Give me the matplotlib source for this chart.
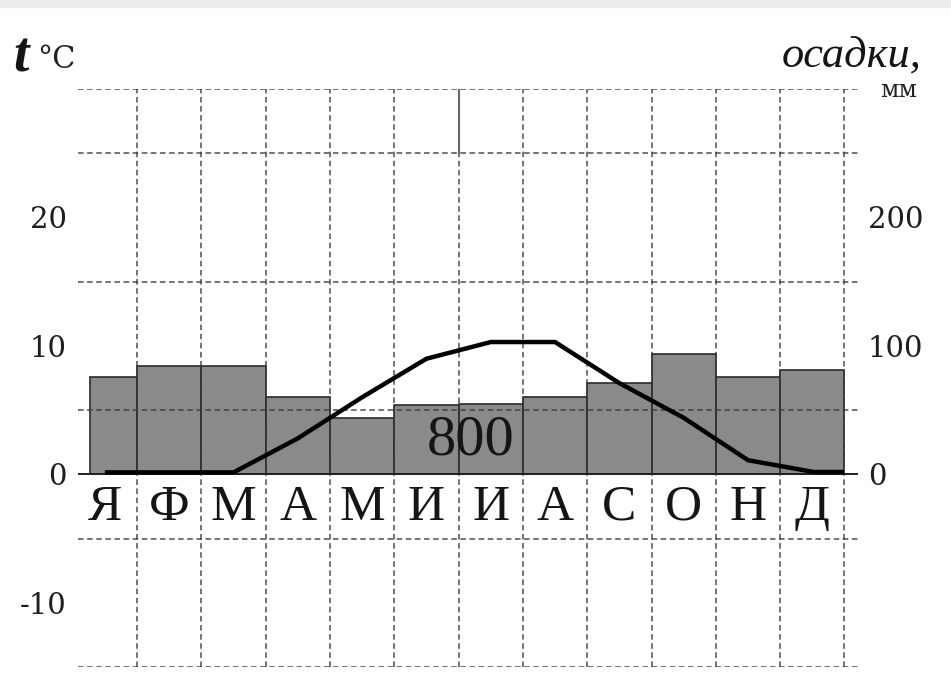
import matplotlib
matplotlib.use("Agg")
import matplotlib.pyplot as plt
from matplotlib.patches import Rectangle
import numpy as np

plt.rcParams["axes.unicode_minus"] = False

# ---- data ----
months = ["Я", "Ф", "М", "А", "М", "И", "И", "А", "С", "О", "Н", "Д"]
temperature = [0.15, 0.15, 0.15, 2.8, 6.0, 9.0, 10.3, 10.3, 7.1, 4.4, 1.1, 0.2]
precipitation = [76, 84, 84, 60, 44, 54, 55, 60, 71, 94, 76, 81]
annual_total = "800"
temp_ticks = [-10, 0, 10, 20]
precip_ticks = [0, 100, 200]

W, H = 951, 686
fig = plt.figure(figsize=(W / 100, H / 100), dpi=100)
fig.patches.append(Rectangle((0, 1 - 7 / H), 1, 7 / H, transform=fig.transFigure,
                             color="#ededed", zorder=0))

ax = fig.add_axes([78 / W, (H - 667) / H, (858 - 78) / W, (667 - 89) / H])
ax2 = ax.twinx()

x = np.arange(len(months))

# precipitation bars (right axis)
bars = ax2.bar(x, precipitation, width=1.0, color="#8a8a8a", edgecolor="#2b2b2b",
               linewidth=1.2, zorder=2)
bars.patches[0].set_x(-0.23)
bars.patches[0].set_width(0.73)

ax.set_zorder(ax2.get_zorder() + 1)
ax.patch.set_visible(False)

# temperature line (left axis)
ax.plot(x, temperature, color="black", lw=3.2, solid_joinstyle="round",
        solid_capstyle="butt", zorder=5)
ax.hlines(temperature[-1], x[-1], x[-1] + 0.5, color="black", lw=3.2, zorder=5)

ax.set_xlim(-0.418, 11.71)
ax.set_ylim(-15, 30)
ax2.set_ylim(-150, 300)

# grid
ax.set_xticks(np.arange(0.5, 12, 1), minor=True)
ax.set_xticks([])
ax.set_yticks(temp_ticks)
ax.set_yticks(np.arange(-15, 31, 5), minor=True)
ax.grid(which="minor", color="#383838", lw=1.15, linestyle=(0, (3.5, 2.2)), alpha=0.85)
ax.axhline(0, color="#222222", lw=1.4, zorder=4)
ax.axvline(5.5, ymin=(25 + 15) / 45, ymax=1.0, color="#666666", lw=1.5, zorder=4)

for a in (ax, ax2):
    for s in a.spines.values():
        s.set_visible(False)

ax.tick_params(axis="both", which="both", length=0)
ax.tick_params(axis="y", pad=8, labelsize=21, labelcolor="#1e1e1e")
for lab in ax.get_yticklabels():
    lab.set_family("DejaVu Serif")

ax2.set_yticks(precip_ticks)
ax2.tick_params(axis="y", length=0, pad=7, labelsize=21, labelcolor="#1e1e1e")
for lab in ax2.get_yticklabels():
    lab.set_family("DejaVu Serif")

# month labels
for i, m in enumerate(months):
    ax.text(i, -2.6, m, ha="center", va="center", fontsize=37,
            family="Liberation Serif", color="#151515", zorder=6)

ax.text(5.68, 2.65, annual_total, ha="center", va="center", fontsize=42,
        family="Liberation Serif", color="#151515", zorder=6)

# axis titles
fig.text(13 / W, 1 - 72 / H, "t", fontsize=40, style="italic", weight="bold",
         family="Liberation Serif", va="baseline", ha="left", color="#151515")
fig.text(37 / W, 1 - 68 / H, "°C", fontsize=22, family="DejaVu Serif",
         va="baseline", ha="left", color="#222222")
fig.text(922 / W, 1 - 67 / H, "осадки,", fontsize=32, style="italic",
         family="Liberation Serif", va="baseline", ha="right", color="#151515")
fig.text(917 / W, 1 - 97 / H, "мм", fontsize=17, family="DejaVu Serif",
         va="baseline", ha="right", color="#222222")

fig.savefig("out.png", dpi=100)
